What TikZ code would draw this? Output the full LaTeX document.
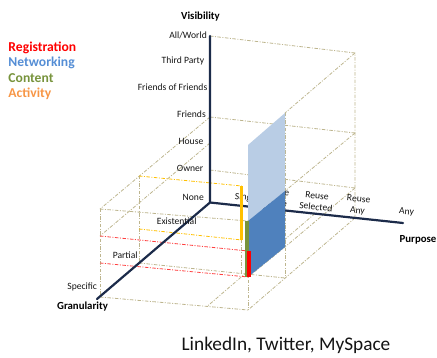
\documentclass[tikz,border=0pt]{standalone}
\usepackage{fontspec}
\setmainfont{Carlito}
\definecolor{axisc}{HTML}{1C2B4A}
\definecolor{latticec}{HTML}{BDB58E}
\definecolor{regc}{HTML}{FF0000}
\definecolor{netc}{HTML}{558ED5}
\definecolor{conc}{HTML}{77933C}
\definecolor{actc}{HTML}{F79646}
\definecolor{planelight}{HTML}{B9CDE5}
\definecolor{planedark}{HTML}{4F81BD}
\definecolor{barc}{HTML}{FFC000}
\definecolor{redline}{HTML}{FF4040}
\definecolor{textc}{HTML}{141414}
\begin{document}
\begin{tikzpicture}[x=1pt,y=-1pt,
  grid/.style={draw=latticec, line width=0.8pt, dash pattern=on 3.5pt off 1.5pt on 1pt off 1.5pt},
  redgrid/.style={grid, draw=redline},
  yelgrid/.style={grid, draw=barc},
  axisline/.style={draw=axisc, line width=2.2pt, line cap=round, line join=round},
  lab/.style={inner sep=0pt, text=textc, font=\fontsize{9.6}{11.5}\selectfont},
  plab/.style={lab, align=center, rotate=-6},
  title/.style={inner sep=0pt, text=black, font=\fontsize{10.8}{13}\selectfont\bfseries},
  legend/.style={inner sep=0pt, anchor=base west, font=\fontsize{13.6}{15}\selectfont\bfseries}]
\useasboundingbox (0,0) rectangle (437,358);

% axes
\coordinate (O) at (210,202.5);
\coordinate (Vtop) at (210,36);
\coordinate (Pend) at (403,223);
\coordinate (Gend) at (97,299);

% back face
\coordinate (bTR) at (355,53);
\coordinate (bFL) at (210,117);
\coordinate (bFR) at (355,133);
\coordinate (bHL) at (210,143);
\coordinate (bOL) at (210,170);
\coordinate (bOR) at (355,188);
\coordinate (bBR) at (355,218);

% right side, Reuse Any column
\coordinate (d2T) at (285,113);
\coordinate (d3T) at (248,145);
\coordinate (d2F) at (285,191);
\coordinate (d3F) at (248,221);
\coordinate (d2O) at (285,247);
\coordinate (d3O) at (248,277);
\coordinate (d2B) at (285,278);
\coordinate (d3B) at (248,310);
\coordinate (d3H) at (248,251);

% front and middle slices
\coordinate (fF) at (100,209);
\coordinate (fH) at (100,236);
\coordinate (fO) at (100,263);
\coordinate (fB) at (100,297);
\coordinate (mF) at (139,176);
\coordinate (mO) at (139,229);
\coordinate (mB) at (139,263);
\coordinate (yT) at (241.8,186);
\coordinate (yO) at (241.8,240);
\coordinate (yB) at (241.8,274);
\coordinate (rsA) at (315,213.5);
\coordinate (rsF) at (207,306.5);

% lattice
\draw[grid] (Vtop) -- (bTR) -- (bBR);
\draw[grid] (bFL) -- (bFR);
\draw[grid] (bOL) -- (bOR);
\draw[grid] (bTR) -- (d2T);
\draw[grid] (bFR) -- (d2F);
\draw[grid] (bOR) -- (d2O) -- (d3O);
\draw[grid] (bBR) -- (d3B);
\draw[grid] (d2T) -- (d2B);
\draw[grid] (d3T) -- (d3B);
\draw[grid] (bFL) -- (fF);
\draw[grid] (bHL) -- (fH);
\draw[grid] (fF) -- (fB);
\draw[grid] (mF) -- (mB);
\draw[grid] (fF) -- (d3F);
\draw[grid] (fB) -- (d3B);
\draw[grid] (mB) -- (d2B);
\draw[grid] (rsA) -- (rsF);
\draw[grid] (yO) -- (yB);
\draw[redgrid] (fH) -- (d3H);
\draw[redgrid] (fO) -- (d3O);
\draw[yelgrid] (mF) -- (yT);
\draw[yelgrid] (mO) -- (yO);

% axes
\draw[axisline] (Vtop) -- (O) -- (Pend);
\draw[axisline] (O) -- (Gend);

% visibility labels
\node[title, anchor=base] (tVis) at (200.5,19.8) {Visibility};
\node[lab, anchor=base east] (vAll) at (207,38.5) {All/World};
\node[lab, anchor=base east] (vThird) at (204.5,63.5) {Third Party};
\node[lab, anchor=base east] (vFoF) at (207.5,90.5) {Friends of Friends};
\node[lab, anchor=base east] (vFr) at (206,117.5) {Friends};
\node[lab, anchor=base east] (vHouse) at (203.5,145) {House};
\node[lab, anchor=base east] (vOwner) at (203.5,171.5) {Owner};
\node[lab, anchor=base east] (vNone) at (204,200.5) {None};

% granularity labels
\node[lab, anchor=base] (gExi) at (176.7,224.5) {Existential};
\node[lab, anchor=base] (gPar) at (125.2,259) {Partial};
\node[lab, anchor=base] (gSpe) at (82.2,290) {Specific};
\node[title, anchor=base] (tGran) at (82.5,309.5) {Granularity};

% purpose labels
\node[plab] (pSingle) at (246.5,198) {Single};
\node[plab] (pSame) at (277,197.5) {Reuse\\Same};
\node[plab] (pSel) at (316.5,201.5) {Reuse\\Selected};
\node[plab] (pAnyR) at (358,205.5) {Reuse\\Any};
\node[plab] (pAny) at (406.5,212) {Any};
\node[title, anchor=base] (tPur) at (418,243) {Purpose};

% coverage plane at Reuse Any
\fill[planelight] (d3T) -- (d2T) -- (d2F) -- (d3F) -- cycle;
\fill[planedark] (d3F) -- (d2F) -- (d2O) -- (d3O) -- cycle;

% category bars
\fill[barc] (240.4,186) rectangle (243.2,240);
\fill[conc] (245.3,221) rectangle (249.2,277.5);
\fill[regc] (247,251) rectangle (251.2,277.5);

% legend
\node[legend, text=regc] (lReg) at (8.3,52) {Registration};
\node[legend, text=netc] (lNet) at (8.3,67) {Networking};
\node[legend, text=conc] (lCon) at (8.3,82.5) {Content};
\node[legend, text=actc] (lAct) at (8.3,97.3) {Activity};

% caption
\node[inner sep=0pt, anchor=base, text=textc, font=\fontsize{19.3}{22}\selectfont] (cap) at (286,351) {LinkedIn, Twitter, MySpace};
\end{tikzpicture}
\end{document}
